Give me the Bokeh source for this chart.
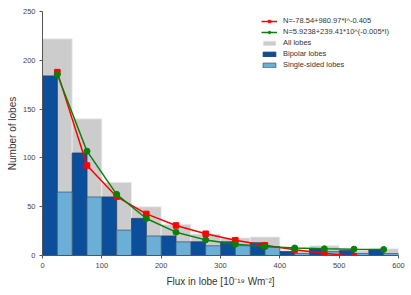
from bokeh.plotting import figure
from bokeh.models import ColumnDataSource, Legend, LegendItem, FixedTicker, Range1d
from bokeh.embed import file_html
from bokeh.resources import INLINE

# ---- data ----
bin_left = [0, 50, 100, 150, 200, 250, 300, 350, 400, 450, 500, 550]
bin_width = 50
all_lobes = [222, 140, 75, 50, 32, 22, 18, 19, 5, 10, 5, 7]
bipolar_lobes = [184, 105, 60, 38, 20, 14, 14, 13, 4, 7, 5, 6]
single_lobes = [65, 60, 26, 20, 14, 10, 10, 9, 2, 4, 2, 2]

fit_x_power = [25, 75, 125, 175, 225, 275, 325, 375, 425, 475, 525]
fit_power = [187.9, 92.2, 60.3, 42.6, 30.8, 22.3, 15.7, 10.4, 6.0, 2.3, -0.9]
fit_x_exp = [25, 75, 125, 175, 225, 275, 325, 375, 425, 475, 525, 575]
fit_exp = [185.5, 106.9, 62.7, 37.9, 23.9, 16.0, 11.6, 9.1, 7.7, 6.9, 6.5, 6.2]

x_ticks = [0, 100, 200, 300, 400, 500, 600]
y_ticks = [0, 50, 100, 150, 200, 250]

label_power = "N=-78.54+980.97*I^-0.405"
label_exp = "N=5.9238+239.41*10^(-0.005*I)"

# ---- sources ----
src_all = ColumnDataSource(dict(x=[b + bin_width / 2 for b in bin_left], top=all_lobes))
src_bi = ColumnDataSource(dict(x=[b + bin_width / 4 for b in bin_left], top=bipolar_lobes))
src_si = ColumnDataSource(dict(x=[b + 3 * bin_width / 4 for b in bin_left], top=single_lobes))
src_pow = ColumnDataSource(dict(x=fit_x_power, y=fit_power))
src_exp = ColumnDataSource(dict(x=fit_x_exp, y=fit_exp))

p = figure(width=405, height=292, output_backend="svg", toolbar_location=None,
           x_range=Range1d(0, 600), y_range=Range1d(0, 250),
           min_border_left=42, min_border_right=7, min_border_top=11, min_border_bottom=37)
p.outline_line_color = None
p.xgrid.visible = False
p.ygrid.visible = False
p.background_fill_color = "white"

r_all = p.vbar(x="x", top="top", width=bin_width, bottom=0, source=src_all,
               fill_color="#cccccc", line_color="#eeeeee", line_width=0.8)
r_bi = p.vbar(x="x", top="top", width=bin_width / 2, bottom=0, source=src_bi,
              fill_color="#0b4f9c", line_color="#24405e", line_width=0.8)
r_si = p.vbar(x="x", top="top", width=bin_width / 2, bottom=0, source=src_si,
              fill_color="#6baed6", line_color="#3f5f7a", line_width=0.8)

l_pow = p.line("x", "y", source=src_pow, line_color="#ff0000", line_width=1.5)
m_pow = p.scatter("x", "y", source=src_pow, marker="square", size=5.5,
                  fill_color="#ff0000", line_color="#ff0000")
l_exp = p.line("x", "y", source=src_exp, line_color="#0a800a", line_width=1.5)
m_exp = p.scatter("x", "y", source=src_exp, marker="circle", size=6,
                  fill_color="#0a800a", line_color="#0a800a")

# axes
for ax in (p.xaxis[0], p.yaxis[0]):
    ax.axis_line_color = "#555555"
    ax.axis_line_width = 1
    ax.major_tick_line_color = "#555555"
    ax.major_tick_in = 0
    ax.major_tick_out = 3
    ax.minor_tick_line_color = None
    ax.major_label_text_font = "Liberation Sans"
    ax.major_label_text_font_size = "7.5px"
    ax.major_label_text_color = "#444444"
    ax.axis_label_text_font = "Liberation Sans"
    ax.axis_label_text_font_size = "10px"
    ax.axis_label_text_font_style = "normal"
    ax.axis_label_text_color = "#333333"

p.xaxis.ticker = FixedTicker(ticks=x_ticks)
p.yaxis.ticker = FixedTicker(ticks=y_ticks)
p.xaxis.major_label_standoff = 4
p.yaxis.major_label_standoff = 4
p.xaxis.axis_label = "Flux in lobe [10\u207b\u00b9\u2079 Wm\u207b\u00b2]"
p.yaxis.axis_label = "Number of lobes"
p.xaxis.axis_label_standoff = 5
p.yaxis.axis_label_standoff = 2

legend = Legend(items=[
    LegendItem(label=label_power, renderers=[l_pow, m_pow]),
    LegendItem(label=label_exp, renderers=[l_exp, m_exp]),
    LegendItem(label="All lobes", renderers=[r_all]),
    LegendItem(label="Bipolar lobes", renderers=[r_bi]),
    LegendItem(label="Single-sided lobes", renderers=[r_si]),
], location=(219, 186))
legend.padding = 0
legend.margin = 0
legend.spacing = 2
legend.border_line_color = None
legend.background_fill_alpha = 0
legend.glyph_width = 16
legend.glyph_height = 6
legend.label_height = 9
legend.label_standoff = 6
legend.label_text_font = "Liberation Sans"
legend.label_text_font_size = "7.5px"
legend.label_text_color = "#333333"
p.add_layout(legend, "center")

open("out.html", "w").write(file_html(p, INLINE))
